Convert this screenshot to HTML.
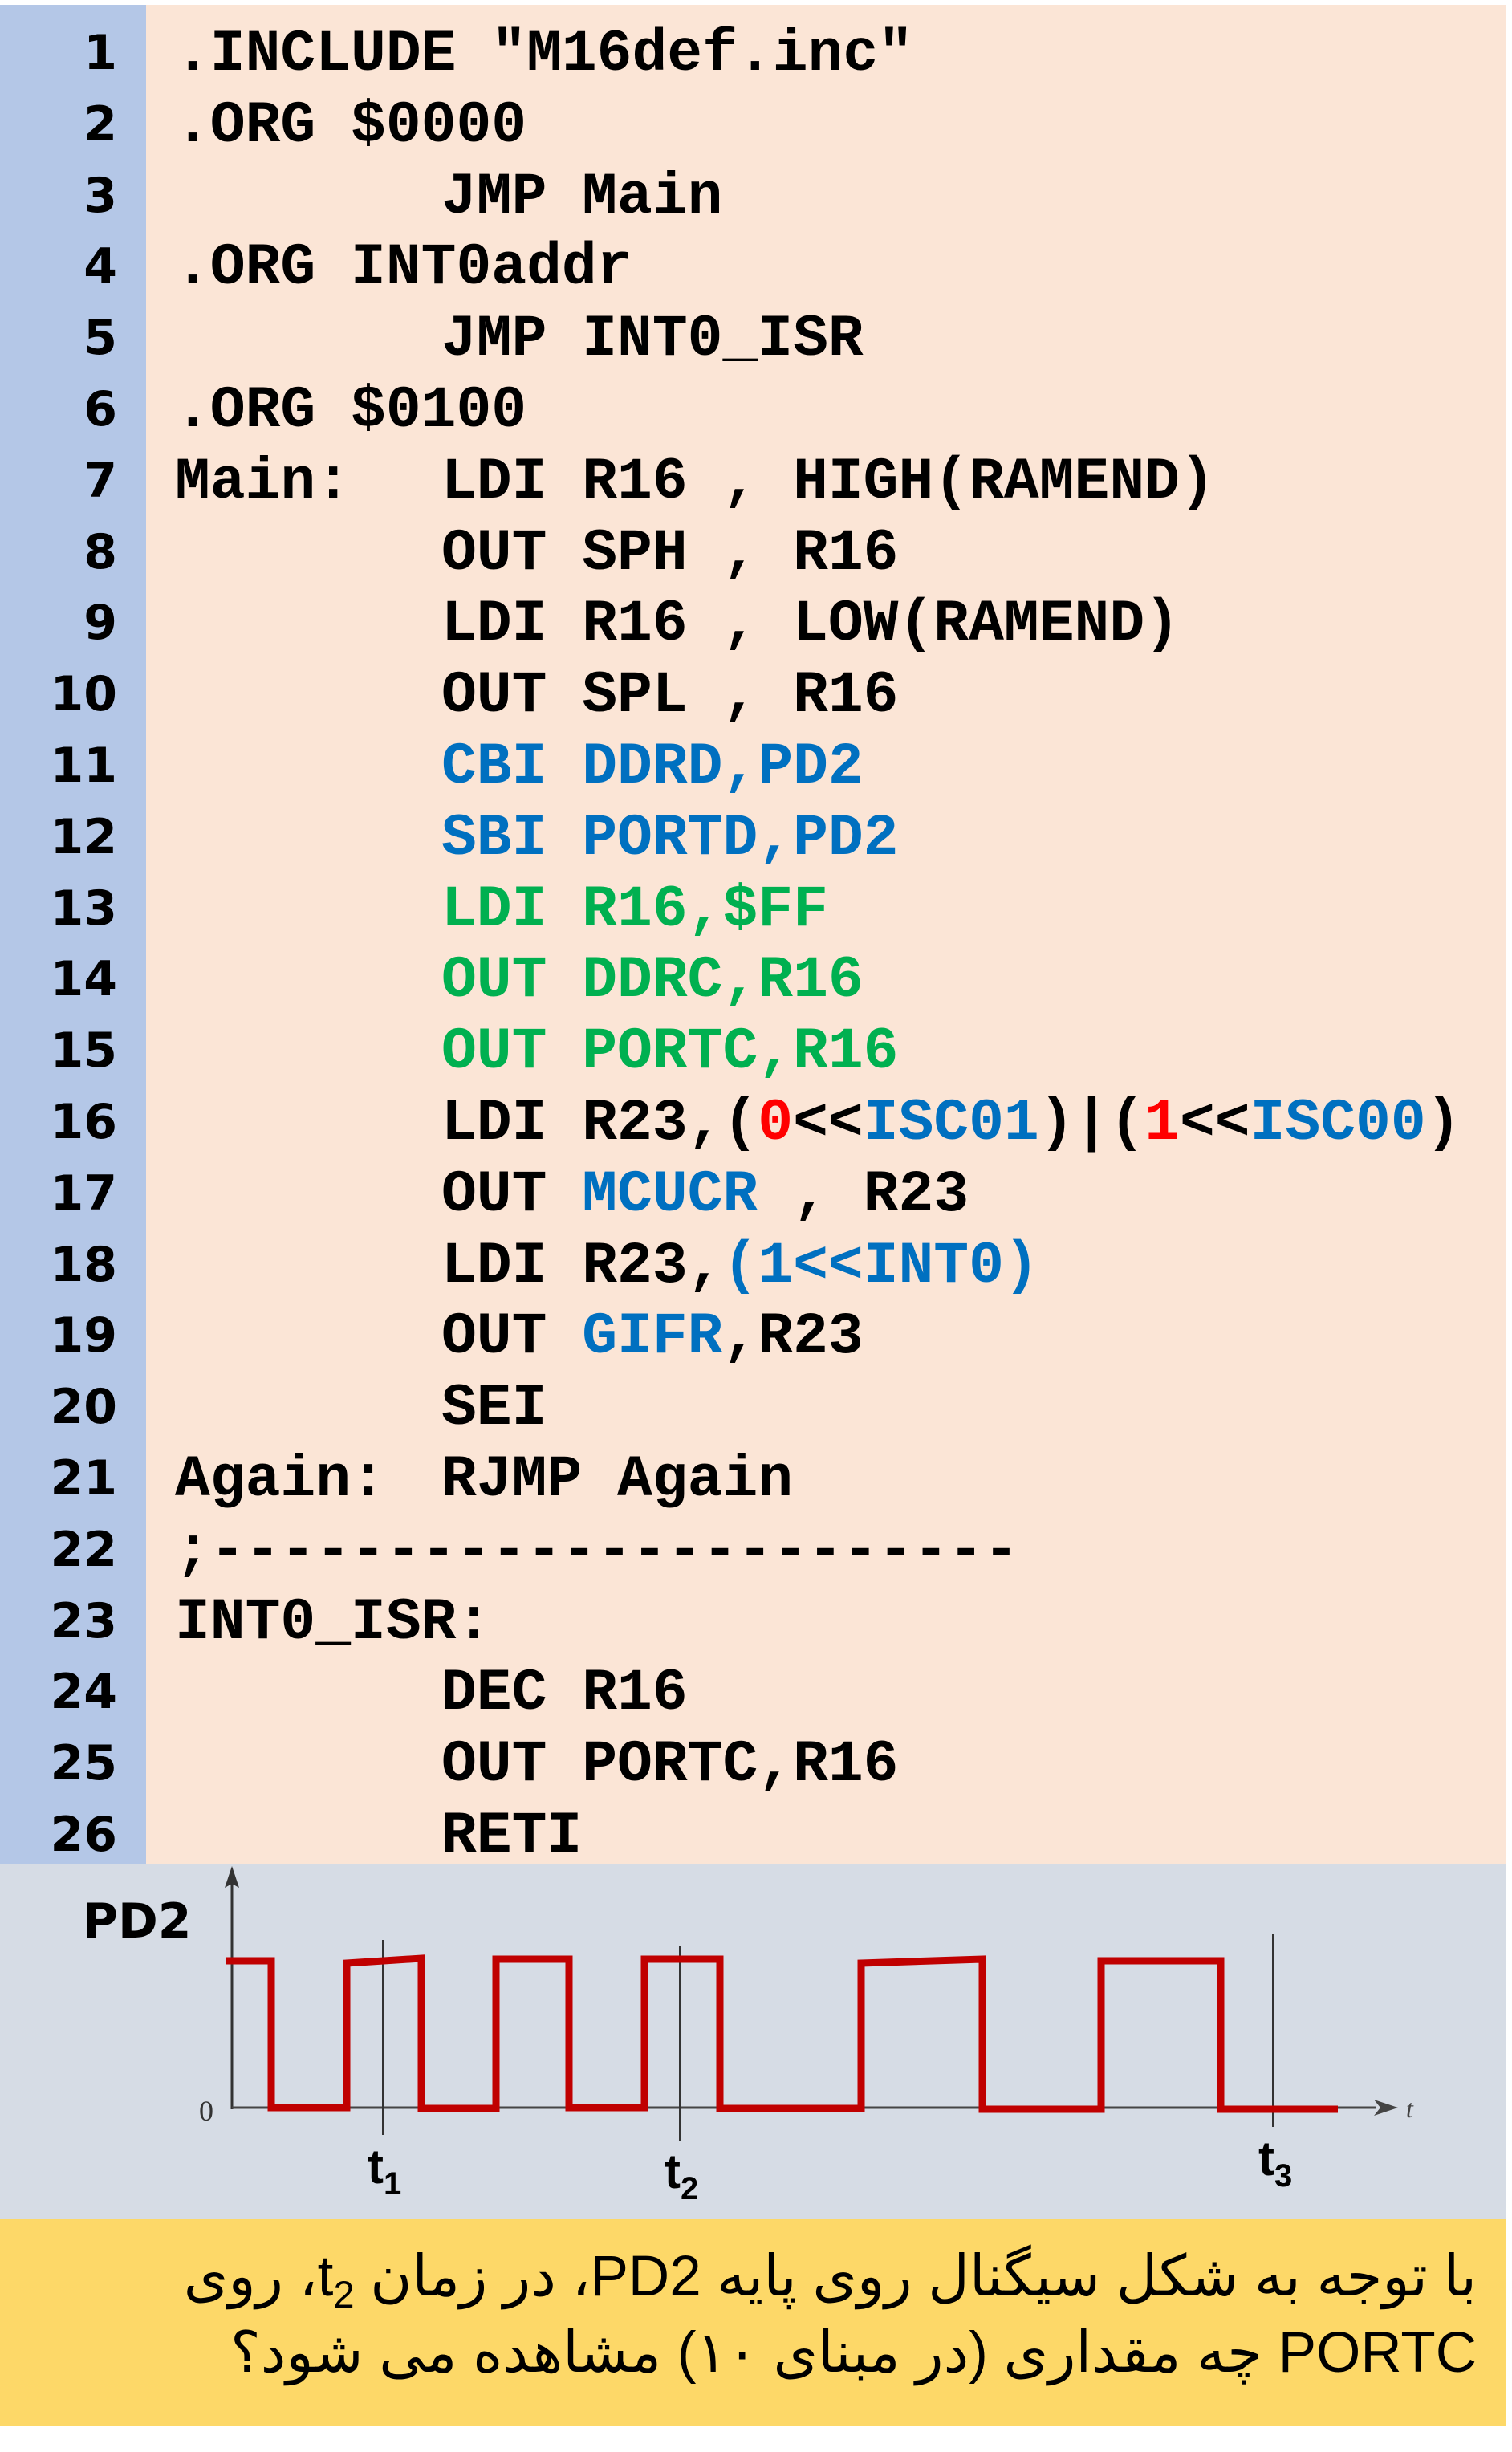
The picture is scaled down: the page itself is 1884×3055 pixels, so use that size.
<!DOCTYPE html>
<html><head><meta charset="utf-8">
<style>
html,body{margin:0;padding:0;background:#fff;}
body{width:1884px;height:3055px;position:relative;overflow:hidden;}
#peach{position:absolute;left:0;top:6px;width:1876px;height:2317px;background:#FBE5D6;}
#blue{position:absolute;left:0;top:6px;width:182px;height:2317px;background:#B4C7E7;}
#gray{position:absolute;left:0;top:2323px;width:1876px;height:442px;background:#D6DCE5;}
#yellow{position:absolute;left:0;top:2765px;width:1876px;height:257px;background:#FDD868;}
.ln{position:absolute;left:0;width:146px;text-align:right;font:bold 60px "DejaVu Sans",sans-serif;line-height:88.8px;}
.cd{position:absolute;font:bold 73px "Liberation Mono",monospace;line-height:88.8px;white-space:pre;color:#000;}
.b{color:#0070C0}.g{color:#00B050}.r{color:#FF0000}
.q{position:absolute;right:44px;font:71px "Liberation Sans","DejaVu Sans",sans-serif;direction:rtl;white-space:nowrap;color:#000;}
</style></head><body>
<div id="peach"></div><div id="blue"></div><div id="gray"></div><div id="yellow"></div>

<div style="position:absolute;left:0;top:22px;">
<div class="ln" style="top:0">1</div>
<div class="ln" style="top:88.8px">2</div>
<div class="ln" style="top:177.6px">3</div>
<div class="ln" style="top:266.4px">4</div>
<div class="ln" style="top:355.2px">5</div>
<div class="ln" style="top:444px">6</div>
<div class="ln" style="top:532.8px">7</div>
<div class="ln" style="top:621.6px">8</div>
<div class="ln" style="top:710.4px">9</div>
<div class="ln" style="top:799.2px">10</div>
<div class="ln" style="top:888px">11</div>
<div class="ln" style="top:976.8px">12</div>
<div class="ln" style="top:1065.6px">13</div>
<div class="ln" style="top:1154.4px">14</div>
<div class="ln" style="top:1243.2px">15</div>
<div class="ln" style="top:1332px">16</div>
<div class="ln" style="top:1420.8px">17</div>
<div class="ln" style="top:1509.6px">18</div>
<div class="ln" style="top:1598.4px">19</div>
<div class="ln" style="top:1687.2px">20</div>
<div class="ln" style="top:1776px">21</div>
<div class="ln" style="top:1864.8px">22</div>
<div class="ln" style="top:1953.6px">23</div>
<div class="ln" style="top:2042.4px">24</div>
<div class="ln" style="top:2131.2px">25</div>
<div class="ln" style="top:2220px">26</div>
</div>

<div style="position:absolute;left:0;top:24px;">
<div class="cd" style="left:218px;top:0">.INCLUDE "M16def.inc"</div>
<div class="cd" style="left:218px;top:88.8px">.ORG $0000</div>
<div class="cd" style="left:550px;top:177.6px">JMP Main</div>
<div class="cd" style="left:218px;top:266.4px">.ORG INT0addr</div>
<div class="cd" style="left:550px;top:355.2px">JMP INT0_ISR</div>
<div class="cd" style="left:218px;top:444px">.ORG $0100</div>
<div class="cd" style="left:218px;top:532.8px">Main:</div>
<div class="cd" style="left:550px;top:532.8px">LDI R16 , HIGH(RAMEND)</div>
<div class="cd" style="left:550px;top:621.6px">OUT SPH , R16</div>
<div class="cd" style="left:550px;top:710.4px">LDI R16 , LOW(RAMEND)</div>
<div class="cd" style="left:550px;top:799.2px">OUT SPL , R16</div>
<div class="cd b" style="left:550px;top:888px">CBI DDRD,PD2</div>
<div class="cd b" style="left:550px;top:976.8px">SBI PORTD,PD2</div>
<div class="cd g" style="left:550px;top:1065.6px">LDI R16,$FF</div>
<div class="cd g" style="left:550px;top:1154.4px">OUT DDRC,R16</div>
<div class="cd g" style="left:550px;top:1243.2px">OUT PORTC,R16</div>
<div class="cd" style="left:550px;top:1332px">LDI R23,(<span class="r">0</span>&lt;&lt;<span class="b">ISC01</span>)|(<span class="r">1</span>&lt;&lt;<span class="b">ISC00</span>)</div>
<div class="cd" style="left:550px;top:1420.8px">OUT <span class="b">MCUCR</span> , R23</div>
<div class="cd" style="left:550px;top:1509.6px">LDI R23,<span class="b">(1&lt;&lt;INT0)</span></div>
<div class="cd" style="left:550px;top:1598.4px">OUT <span class="b">GIFR</span>,R23</div>
<div class="cd" style="left:550px;top:1687.2px">SEI</div>
<div class="cd" style="left:218px;top:1776px">Again:</div>
<div class="cd" style="left:550px;top:1776px">RJMP Again</div>
<div class="cd" style="left:218px;top:1864.8px">;-----------------------</div>
<div class="cd" style="left:218px;top:1953.6px">INT0_ISR:</div>
<div class="cd" style="left:550px;top:2042.4px">DEC R16</div>
<div class="cd" style="left:550px;top:2131.2px">OUT PORTC,R16</div>
<div class="cd" style="left:550px;top:2220px">RETI</div>
</div>

<svg style="position:absolute;left:0;top:0" width="1884" height="3055" viewBox="0 0 1884 3055">
  <text x="103" y="2414" font-family="DejaVu Sans" font-weight="bold" font-size="60">PD2</text>
  <line x1="289" y1="2340" x2="289" y2="2628" stroke="#333" stroke-width="3"/>
  <polygon points="289,2325 280,2352 289,2347 298,2352" fill="#333"/>
  <line x1="289" y1="2626" x2="1715" y2="2626" stroke="#444" stroke-width="3"/>
  <polygon points="1742,2626 1712,2616 1720,2626 1712,2636" fill="#444"/>
  <text x="1752" y="2638" font-family="Liberation Serif" font-style="italic" font-size="32" fill="#444">t</text>
  <text x="248" y="2642" font-family="Liberation Serif" font-size="36" fill="#333">0</text>
  <line x1="477" y1="2417" x2="477" y2="2660" stroke="#333" stroke-width="2"/>
  <line x1="847" y1="2424" x2="847" y2="2667" stroke="#333" stroke-width="2"/>
  <line x1="1586" y1="2409" x2="1586" y2="2650" stroke="#333" stroke-width="2"/>
  <polyline fill="none" stroke="#C00000" stroke-width="9" stroke-linejoin="miter"
    points="282,2443 338,2443 338,2626 432,2626 432,2446 525,2440 525,2627 618,2627 618,2441 709,2441 709,2626 803,2626 803,2441 897,2441 897,2627 1073,2627 1073,2446 1224,2441 1224,2628 1372,2628 1372,2443 1521,2443 1521,2628 1667,2628"/>
  <text x="458" y="2720" font-family="Liberation Sans" font-weight="bold" font-size="60">t<tspan font-size="40" dy="14">1</tspan></text>
  <text x="828" y="2726" font-family="Liberation Sans" font-weight="bold" font-size="60">t<tspan font-size="40" dy="14">2</tspan></text>
  <text x="1568" y="2710" font-family="Liberation Sans" font-weight="bold" font-size="60">t<tspan font-size="40" dy="14">3</tspan></text>
</svg>

<div class="q" style="top:2794px;">با توجه به شکل سیگنال روی پایه PD2، در زمان t<sub style="font-size:47px">2</sub>، روی</div>
<div class="q" style="top:2889px;">PORTC چه مقداری (در مبنای ۱۰) مشاهده می شود؟</div>
</body></html>
